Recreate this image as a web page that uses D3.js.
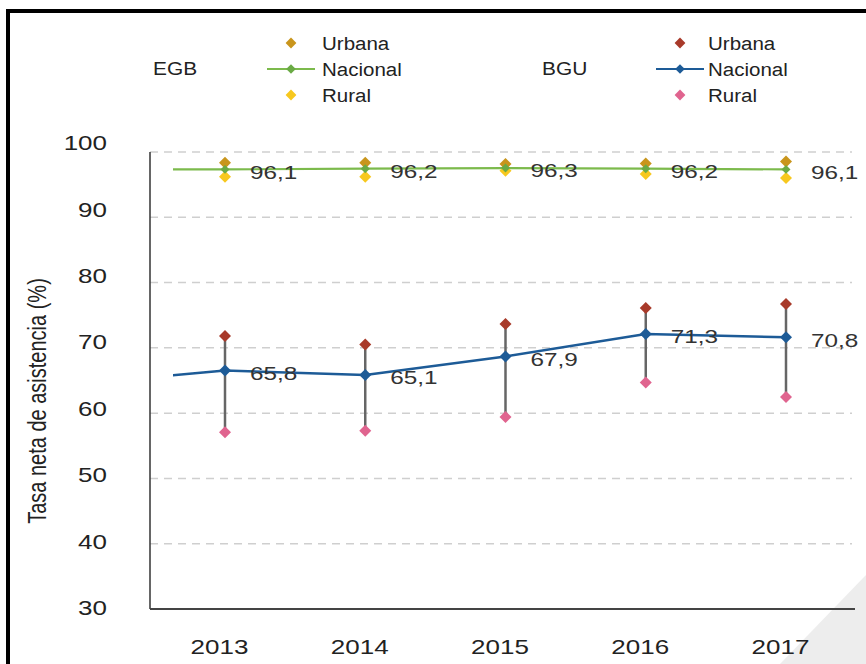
<!DOCTYPE html>
<html>
<head>
<meta charset="utf-8">
<script src="https://cdn.jsdelivr.net/npm/d3@7"></script>
<style>
  html, body { margin: 0; padding: 0; background: #fff; }
  svg { display: block; font-family: "Liberation Sans", Arial, sans-serif; }
</style>
</head>
<body>
<svg id="chart" width="866" height="664"></svg>
<script>
// ---- data ----
const years = [2013, 2014, 2015, 2016, 2017];
const prevYear = 2012;                 // partially visible segment on the left
const egbUrbana   = [97.1, 97.1, 96.9, 97.0, 97.3];
const egbNacional = [96.1, 96.2, 96.3, 96.2, 96.1];
const egbRural    = [95.0, 95.0, 95.9, 95.4, 94.8];
const egbNacionalPrev = 96.1;
const bguUrbana   = [71.0, 69.7, 72.8, 75.2, 75.8];
const bguNacional = [65.8, 65.1, 67.9, 71.3, 70.8];
const bguRural    = [56.5, 56.7, 58.8, 64.0, 61.8];
const bguNacionalPrev = 63.8;
const yTicks = [30, 40, 50, 60, 70, 80, 90, 100];
const yTitle = "Tasa neta de asistencia (%)";
const legendGroups = ["EGB", "BGU"];
const legendItems = ["Urbana", "Nacional", "Rural"];

// ---- colours ----
const C = {
  egbU: "#c9951c", egbN: "#7cba4c", egbNm: "#6aaa45", egbR: "#f7c81e",
  bguU: "#a83a2a", bguN: "#1d5b97", bguR: "#e0648f",
  text: "#222", grid: "#cfcfcf", whisker: "#666"
};

const svg = d3.select("#chart");

// scales
const x = d3.scaleLinear().domain([2013, 2017]).range([225, 786]);
const y = d3.scaleLinear().domain([30, 100]).range([608, 143.5]);
const yGrid = d3.scaleLinear().domain([30, 100]).range([609, 152]);

// decorative background bits
svg.append("polygon").attr("points", "866,575 780,664 866,664").attr("fill", "#ededed");
svg.append("rect").attr("x", 6).attr("y", 9).attr("width", 4).attr("height", 655).attr("fill", "#000");
svg.append("rect").attr("x", 6).attr("y", 9).attr("width", 860).attr("height", 4).attr("fill", "#000");

// gridlines
svg.append("g").selectAll("line").data(yTicks.filter(d => d > 30)).join("line")
  .attr("x1", 150).attr("x2", 852)
  .attr("y1", d => yGrid(d)).attr("y2", d => yGrid(d))
  .attr("stroke", C.grid).attr("stroke-width", 1.5).attr("stroke-dasharray", "8,6");

// axes lines
svg.append("line").attr("x1", 150).attr("x2", 150).attr("y1", yGrid(100)).attr("y2", yGrid(30))
  .attr("stroke", "#333").attr("stroke-width", 1.5);
svg.append("line").attr("x1", 150).attr("x2", 855).attr("y1", yGrid(30)).attr("y2", yGrid(30))
  .attr("stroke", "#444").attr("stroke-width", 2);

// y tick labels via axis
const yAxis = svg.append("g").attr("transform", "translate(107,0)")
  .call(d3.axisLeft(y).tickValues(yTicks).tickSize(0).tickPadding(0));
yAxis.select(".domain").remove();
yAxis.selectAll("text").attr("font-size", 20).attr("fill", C.text)
  .attr("font-family", "Liberation Sans, Arial, sans-serif")
  .attr("transform", "scale(1.3,1)");

// x tick labels via axis
const xAxis = svg.append("g").attr("transform", "translate(-6,647)")
  .call(d3.axisBottom(x).tickValues(years).tickFormat(d3.format("d")).tickSize(0).tickPadding(0));
xAxis.select(".domain").remove();
xAxis.selectAll("text").attr("font-size", 20).attr("fill", C.text).attr("dy", "0.35em")
  .attr("font-family", "Liberation Sans, Arial, sans-serif")
  .attr("transform", "scale(1.3,1)");

// y title
svg.append("text")
  .attr("transform", "translate(37.5,401) scale(1.3,1) rotate(-90)")
  .attr("text-anchor", "middle").attr("dominant-baseline", "central")
  .attr("font-size", 20).attr("fill", C.text).text(yTitle);

// clip for the lines (start at x=173)
svg.append("clipPath").attr("id", "clip").append("rect")
  .attr("x", 173).attr("y", 0).attr("width", 700).attr("height", 664);

const diamond = d3.symbol().type(d3.symbolSquare).size(72);
function drawDiamonds(g, xs, vs, color, size) {
  g.selectAll(null).data(vs).join("path")
    .attr("d", d3.symbol().type(d3.symbolSquare).size(size || 72)())
    .attr("transform", (d, i) => `translate(${x(xs[i])},${y(d)}) rotate(45)`)
    .attr("fill", color);
}

const plot = svg.append("g");

// BGU whiskers
plot.append("g").selectAll("line").data(years).join("line")
  .attr("x1", d => x(d)).attr("x2", d => x(d))
  .attr("y1", (d, i) => y(bguUrbana[i])).attr("y2", (d, i) => y(bguRural[i]))
  .attr("stroke", C.whisker).attr("stroke-width", 2.5);

// lines
const line = d3.line().x(d => x(d[0])).y(d => y(d[1]));
const egbLineData = [[prevYear, egbNacionalPrev]].concat(years.map((yr, i) => [yr, egbNacional[i]]));
const bguLineData = [[prevYear, bguNacionalPrev]].concat(years.map((yr, i) => [yr, bguNacional[i]]));
plot.append("path").attr("d", line(egbLineData)).attr("clip-path", "url(#clip)")
  .attr("fill", "none").attr("stroke", C.egbN).attr("stroke-width", 2.2);
plot.append("path").attr("d", line(bguLineData)).attr("clip-path", "url(#clip)")
  .attr("fill", "none").attr("stroke", C.bguN).attr("stroke-width", 2.5);

// markers
drawDiamonds(plot.append("g"), years, bguUrbana, C.bguU);
drawDiamonds(plot.append("g"), years, bguRural, C.bguR);
drawDiamonds(plot.append("g"), years, bguNacional, C.bguN);
drawDiamonds(plot.append("g"), years, egbRural, C.egbR);
drawDiamonds(plot.append("g"), years, egbUrbana, C.egbU);
drawDiamonds(plot.append("g"), years, egbNacional, C.egbNm, 40);

// value labels
const fmt = v => d3.format(".1f")(v).replace(".", ",");
function drawLabels(vs) {
  plot.append("g").selectAll("text").data(vs).join("text")
    .attr("transform", (d, i) => `translate(${x(years[i]) + 25},${y(d) + 3.5}) scale(1.35,1)`)
    .attr("dominant-baseline", "central").attr("font-size", 18).attr("fill", "#333")
    .text(d => fmt(d));
}
drawLabels(egbNacional);
drawLabels(bguNacional);

// legend
const legend = svg.append("g");
const legendCfg = [
  { name: legendGroups[0], gx: 153, sx: 291, tx: 322, colors: [C.egbU, C.egbNm, C.egbR], lineColor: C.egbN },
  { name: legendGroups[1], gx: 542, sx: 680, tx: 708, colors: [C.bguU, C.bguN, C.bguR], lineColor: C.bguN }
];
const rowY = [43, 69, 95];
legendCfg.forEach(cfg => {
  legend.append("text").attr("transform", `translate(${cfg.gx},68) scale(1.1,1)`)
    .attr("dominant-baseline", "central").attr("font-size", 19).attr("fill", C.text).text(cfg.name);
  legend.append("line").attr("x1", cfg.sx - 24).attr("x2", cfg.sx + 24)
    .attr("y1", rowY[1]).attr("y2", rowY[1]).attr("stroke", cfg.lineColor).attr("stroke-width", 2.2);
  legendItems.forEach((item, i) => {
    legend.append("path").attr("d", diamond())
      .attr("transform", `translate(${cfg.sx},${rowY[i]}) scale(${i === 1 ? 0.8 : 0.9}) rotate(45)`)
      .attr("fill", cfg.colors[i]);
    legend.append("text").attr("transform", `translate(${cfg.tx},${rowY[i]}) scale(1.08,1)`)
      .attr("dominant-baseline", "central").attr("font-size", 19).attr("fill", C.text).text(item);
  });
});
</script>
</body>
</html>
